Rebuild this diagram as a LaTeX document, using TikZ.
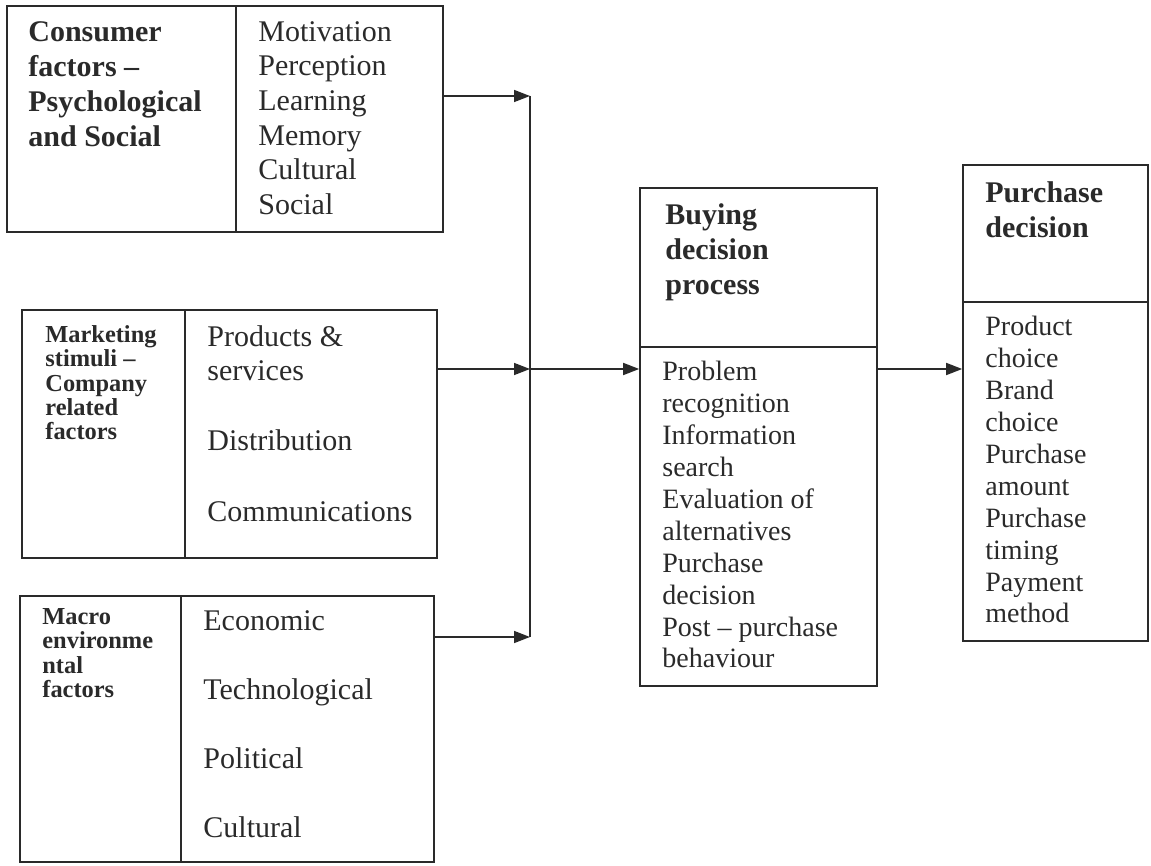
\documentclass[tikz,border=0pt]{standalone}
\usepackage{fontspec}
\setmainfont{Liberation Serif}
\usetikzlibrary{arrows.meta,fit}
\definecolor{ink}{HTML}{2A2A2A}

\begin{document}
\begin{tikzpicture}[x = 0.5pt, y = -0.5pt,
		box/.style = {draw = ink, line width = 0.8pt, inner sep = 0pt},
		txt/.style = {anchor = north west, inner sep = 0pt, align = left, text = ink, font = \fontsize{15}{17.3}\selectfont},
		txtb/.style = {txt, font = \bfseries\fontsize{15}{17.6}\selectfont},
		txts/.style = {txt, font = \bfseries\fontsize{12.2}{12.2}\selectfont},
		txtm/.style = {txt, font = \fontsize{14}{15.95}\selectfont},
		arr/.style = {draw = ink, line width = 0.8pt, -{Triangle[length = 8pt, width = 6pt]}}]
		\useasboundingbox (0,0) rectangle (1151,866);
		% boxes
		\node (consL) [box, fit = {(7,6) (236,232)}] {};
		\node (consR) [box, fit = {(236,6) (443,232)}] {};
		\node (mktL) [box, fit = {(22,310) (185,558)}] {};
		\node (mktR) [box, fit = {(185,310) (437,558)}] {};
		\node (macL) [box, fit = {(20,596) (181,862)}] {};
		\node (macR) [box, fit = {(181,596) (434,862)}] {};
		\node (buyT) [box, fit = {(640,188) (877,347)}] {};
		\node (buyB) [box, fit = {(640,347) (877,686)}] {};
		\node (purT) [box, fit = {(963,165) (1148,302)}] {};
		\node (purB) [box, fit = {(963,302) (1148,641)}] {};
		% texts
		\node (consH) at (28,21) [txtb] {Consumer\\factors --\\Psychological\\and Social};
		\node (consI) at (258,21) [txt] {Motivation\\Perception\\Learning\\Memory\\Cultural\\Social};
		\node (mktH) at (45,325) [txts] {Marketing\\stimuli --\\Company\\related\\factors};
		\node (mktI) at (207,325) [txt] {Products \&\\services\\[17.3pt]Distribution\\[18.3pt]Communications};
		\node (macH) at (42,608) [txts] {Macro\\environme\\ntal\\factors};
		\node (macI) at (203,610) [txt] {Economic\\[17.2pt]Technological\\[17.2pt]Political\\[17.2pt]Cultural};
		\node (buyH) at (665,203) [txtb] {Buying\\decision\\process};
		\node (buyI) at (662,361) [txtm] {Problem\\recognition\\Information\\search\\Evaluation of\\alternatives\\Purchase\\decision\\Post -- purchase\\behaviour};
		\node (purH) at (985,181) [txtb] {Purchase\\decision};
		\node (purI) at (985,316) [txtm] {Product\\choice\\Brand\\choice\\Purchase\\amount\\Purchase\\timing\\Payment\\method};
		% connectors
		\coordinate (j1) at (530,96);
		\coordinate (j2) at (530,369);
		\coordinate (j3) at (530,637);
		\draw [arr] (j1 -| consR.east) -- (j1);
		\draw [arr] (j2 -| mktR.east) -- (j2);
		\draw [arr] (j3 -| macR.east) -- (j3);
		\draw [draw = ink, line width = 0.8pt] (j1) -- (j3);
		\draw [arr] (j2) -- (j2 -| buyB.west);
		\draw [arr] (j2 -| buyB.east) -- (j2 -| purB.west);
	\end{tikzpicture}
\end{document}
